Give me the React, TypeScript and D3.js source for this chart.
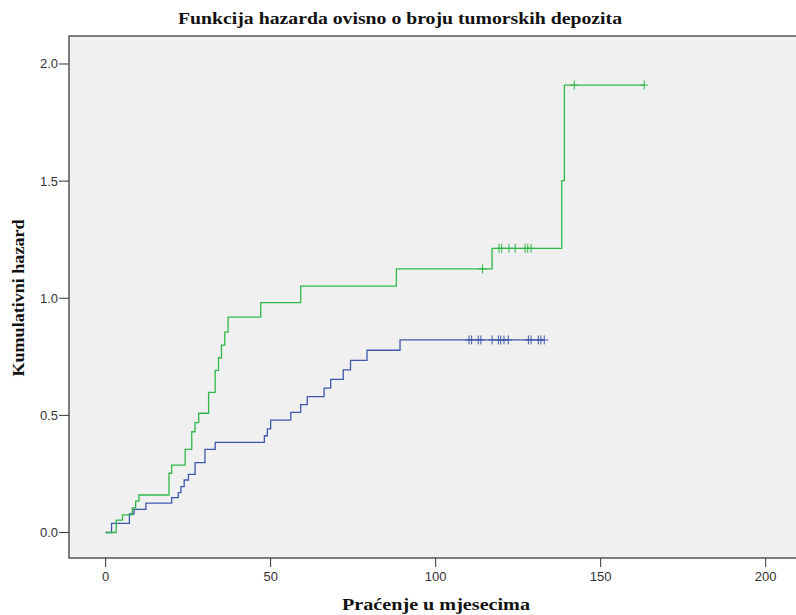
import React from "react";
import * as d3 from "d3";

// Data (time in months, cumulative hazard)
const blueTimes = [0, 1.8, 7.2, 8.6, 12.2, 20.0, 22.0, 22.8, 23.8, 25.1, 27.1, 30.1, 33.2, 48.1, 49.0, 50.0, 56.1, 59.1, 61.1, 66.2, 68.2, 72.0, 74.2, 79.2, 89.2, 132.9];
const blueHazard = [0, 0.039, 0.079, 0.099, 0.125, 0.149, 0.17, 0.196, 0.224, 0.248, 0.298, 0.355, 0.385, 0.413, 0.442, 0.48, 0.513, 0.546, 0.58, 0.616, 0.654, 0.694, 0.735, 0.778, 0.822, 0.822];
const blueCensored = [110.1, 110.9, 112.9, 113.7, 117.1, 119.0, 119.7, 120.7, 122.0, 128.1, 128.9, 131.1, 131.9, 132.9];

const greenTimes = [0, 3.2, 5.1, 8.1, 9.1, 10.1, 19.2, 20.0, 24.1, 26.1, 27.1, 28.2, 31.2, 33.2, 34.2, 35.1, 36.1, 37.1, 47.0, 59.1, 88.1, 117.1, 138.2, 139.0, 163.2];
const greenHazard = [0, 0.053, 0.075, 0.105, 0.134, 0.16, 0.253, 0.288, 0.355, 0.43, 0.469, 0.509, 0.598, 0.692, 0.746, 0.80, 0.855, 0.919, 0.981, 1.052, 1.125, 1.213, 1.502, 1.91, 1.91];
const greenCensored = [114.2, 119.2, 120.0, 122.2, 124.1, 127.1, 127.9, 128.9, 142.0, 163.2];

const xTicks = [0, 50, 100, 150, 200];
const yTicks = [0.0, 0.5, 1.0, 1.5, 2.0];

const titleText = "Funkcija hazarda ovisno o broju tumorskih depozita";
const xLabel = "Praćenje u mjesecima";
const yLabel = "Kumulativni hazard";

const BLUE = "#3E58AC";
const GREEN = "#2EB848";

export default function App() {
  const W = 796, H = 615;
  const left = 69, right = 801, top = 36, bottom = 558;
  const x = d3.scaleLinear().domain([-11.1, 210.7]).range([left, right]);
  const y = d3.scaleLinear().domain([-0.1089, 2.1195]).range([bottom, top]);

  const line = d3.line<[number, number]>()
    .x(d => x(d[0]))
    .y(d => y(d[1]))
    .curve(d3.curveStepAfter);

  const bluePts: [number, number][] = blueTimes.map((t, i) => [t, blueHazard[i]]);
  const greenPts: [number, number][] = greenTimes.map((t, i) => [t, greenHazard[i]]);

  const levelAt = (times: number[], vals: number[], t: number) => {
    let v = vals[0];
    for (let i = 0; i < times.length; i++) if (times[i] <= t) v = vals[i];
    return v;
  };

  const plus = (cx: number, cy: number, color: string, key: string) => (
    <g key={key} stroke={color} strokeWidth={1}>
      <line x1={cx - 4} x2={cx + 4} y1={cy} y2={cy} />
      <line x1={cx} x2={cx} y1={cy - 4.5} y2={cy + 4.5} />
    </g>
  );

  return (
    <svg width={W} height={H} style={{ position: "absolute", left: 0, top: 0, background: "#fff" }}>
      <text x={400} y={24} textAnchor="middle" fontFamily="Liberation Serif" fontWeight="bold" fontSize={17}
        textLength={444} lengthAdjust="spacingAndGlyphs" fill="#111">{titleText}</text>
      <rect x={left} y={top} width={right - left + 10} height={bottom - top} fill="#F0F0F0" stroke="#555" strokeWidth={1.5} />
      {/* y axis */}
      {yTicks.map(v => (
        <g key={"y" + v}>
          <line x1={left - 10} x2={left} y1={y(v)} y2={y(v)} stroke="#333" />
          <text x={58} y={y(v) + 4.5} textAnchor="end" fontFamily="Liberation Sans" fontSize={13} fill="#333">{v.toFixed(1)}</text>
        </g>
      ))}
      {/* x axis */}
      {xTicks.map(t => (
        <g key={"x" + t}>
          <line x1={x(t)} x2={x(t)} y1={bottom} y2={bottom + 9} stroke="#333" />
          <text x={x(t)} y={581} textAnchor="middle" fontFamily="Liberation Sans" fontSize={13} fill="#333">{t}</text>
        </g>
      ))}
      <text x={436} y={610} textAnchor="middle" fontFamily="Liberation Serif" fontWeight="bold" fontSize={17}
        textLength={188} lengthAdjust="spacingAndGlyphs" fill="#111">{xLabel}</text>
      <text transform={`translate(24,${298}) rotate(-90)`} textAnchor="middle" fontFamily="Liberation Serif" fontWeight="bold" fontSize={17}
        textLength={157} lengthAdjust="spacingAndGlyphs" fill="#111">{yLabel}</text>
      <path d={line(bluePts) || ""} fill="none" stroke={BLUE} strokeWidth={1.3} />
      <path d={line(greenPts) || ""} fill="none" stroke={GREEN} strokeWidth={1.3} />
      {blueCensored.map((t, i) => plus(x(t), y(levelAt(blueTimes, blueHazard, t)), BLUE, "bc" + i))}
      {greenCensored.map((t, i) => plus(x(t), y(levelAt(greenTimes, greenHazard, t)), GREEN, "gc" + i))}
    </svg>
  );
}
